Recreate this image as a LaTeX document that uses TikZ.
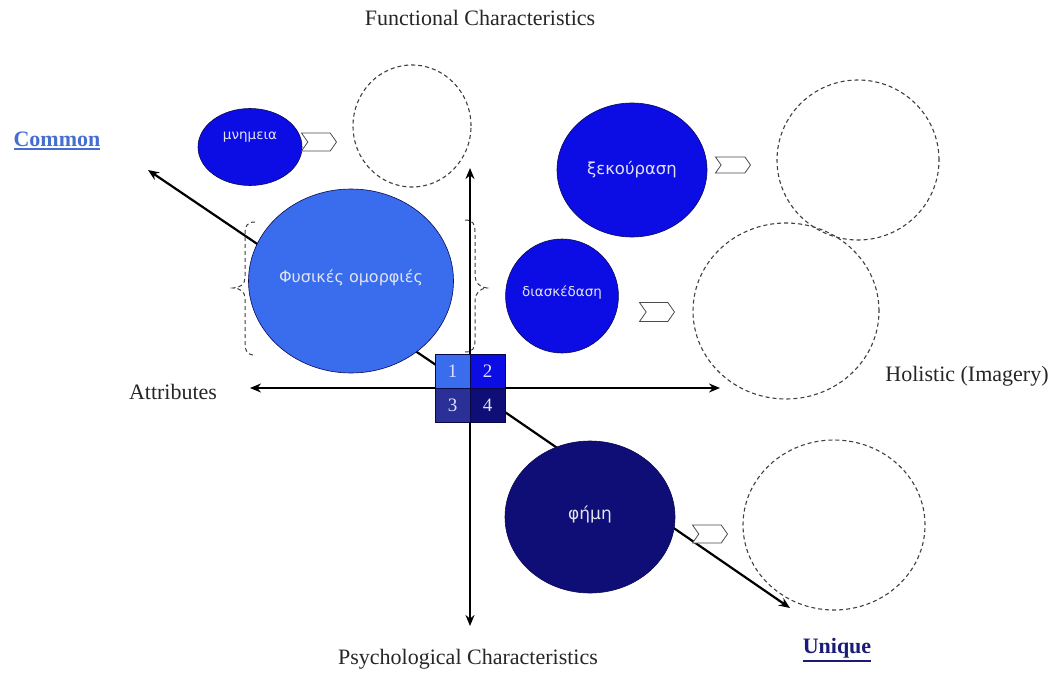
\documentclass[tikz,border=0pt]{standalone}
\usepackage{fontspec}
\setmainfont{Liberation Serif}
\newfontfamily\grk{DejaVu Sans}
\usetikzlibrary{arrows.meta,shapes.geometric,shapes.symbols}
\definecolor{cLight}{RGB}{58,108,238}
\definecolor{cBlue}{RGB}{12,12,228}
\definecolor{cDark}{RGB}{42,48,150}
\definecolor{cNavy}{RGB}{14,14,118}
\definecolor{cCommon}{RGB}{70,110,210}
\definecolor{cUnique}{RGB}{28,28,120}
\definecolor{cGrkTxt}{RGB}{225,228,240}
\newcommand{\ulbox}[1]{\leavevmode\vtop{\hbox{#1}\kern1.5pt\hrule height 2.4pt}}
\begin{document}
\begin{tikzpicture}[x=1pt,y=-1pt,
  axis/.style={line width=2.2pt,-{Stealth[length=11pt,width=9pt]}},
  bubble/.style={ellipse, draw=cNavy!70!black, line width=0.6pt, inner sep=0pt,
    text=cGrkTxt, font=\grk\fontsize{15}{17}\selectfont},
  ghost/.style={ellipse, draw=black!75, line width=1.1pt, dash pattern=on 4pt off 3pt, inner sep=0pt},
  cell/.style={draw=cNavy!60!black, line width=0.5pt, minimum width=35pt, minimum height=34pt,
    inner sep=0pt, text=white!88!blue, font=\fontsize{19}{20}\selectfont},
  chev/.style={signal, signal to=east, signal from=west, signal pointer angle=110,
    draw=black!70, fill=white, line width=0.8pt, minimum width=35pt, minimum height=18pt, inner sep=0pt},
  lbl/.style={font=\fontsize{22}{24}\selectfont, text=black!85},
  pole/.style={font=\bfseries\fontsize{22}{24}\selectfont},
  brace/.style={draw=black!75, line width=1pt, dash pattern=on 4pt off 3pt}
]
\useasboundingbox[fill=white] (0,0) rectangle (1056,679);

% axes
\coordinate (O) at (470,388);
\coordinate (vtop) at (470,168);
\coordinate (vbot) at (470,626);
\coordinate (hleft) at (250,388);
\coordinate (hright) at (720,388);
\coordinate (dcom) at (148,170);
\coordinate (duni) at (790,608);
\draw[axis] (O) -- (vtop);
\draw[axis] (O) -- (vbot);
\draw[axis] (O) -- (hleft);
\draw[axis] (O) -- (hright);
\draw[axis] (O) -- (dcom);
\draw[axis] (O) -- (duni);

% braces around the big bubble
\draw[brace] (255,222) .. controls (247,222) and (245,226) .. (245,234) -- (245,278)
  .. controls (245,284) and (240,288) .. (233,288)
  .. controls (240,288) and (245,292) .. (245,298) -- (245,343)
  .. controls (245,351) and (247,355) .. (255,355);
\draw[brace] (465,220) .. controls (473,220) and (475,224) .. (475,232) -- (475,276)
  .. controls (475,282) and (480,288) .. (487,288)
  .. controls (480,288) and (475,294) .. (475,300) -- (475,340)
  .. controls (475,348) and (473,352) .. (465,352);

% bubbles
\node[bubble, fill=cBlue, minimum width=104pt, minimum height=77pt, font=\grk\fontsize{13.5}{15}\selectfont]
  (mnem) at (250,147) {\raisebox{22pt}{μνημεια}};
\node[ghost, minimum width=118pt, minimum height=122pt] (g1) at (412,126) {};
\node[bubble, fill=cLight, minimum width=205pt, minimum height=184pt, font=\grk\fontsize{16}{18}\selectfont]
  (fys) at (351,281) {\raisebox{10pt}{Φυσικές ομορφιές}};
\node[bubble, fill=cBlue, minimum width=150pt, minimum height=134pt, font=\grk\fontsize{16.5}{18}\selectfont]
  (xek) at (632,170) {ξεκούραση};
\node[ghost, minimum width=162pt, minimum height=160pt] (g2) at (858,160) {};
\node[bubble, fill=cBlue, minimum width=112pt, minimum height=114pt, font=\grk\fontsize{13.5}{15}\selectfont]
  (dias) at (562,296) {\raisebox{10pt}{διασκέδαση}};
\node[ghost, minimum width=186pt, minimum height=176pt] (g3) at (786,311) {};
\node[bubble, fill=cNavy, minimum width=170pt, minimum height=152pt, font=\grk\fontsize{17}{19}\selectfont]
  (fimi) at (590,517) {\raisebox{8pt}{φήμη}};
\node[ghost, minimum width=182pt, minimum height=170pt] (g4) at (834,525) {};

% chevrons
\node[chev] (ch1) at (319,142) {};
\node[chev, minimum height=16pt] (ch2) at (733,165) {};
\node[chev, minimum height=19pt] (ch3) at (657,312) {};
\node[chev] (ch4) at (710,534) {};

% quadrant cells
\node[cell, fill=cLight] (q1) at (452.5,371.5) {1};
\node[cell, fill=cBlue] (q2) at (487.5,371.5) {2};
\node[cell, fill=cDark] (q3) at (452.5,405.5) {3};
\node[cell, fill=cNavy] (q4) at (487.5,405.5) {4};

% labels
\node[lbl] (func) at (480,18) {Functional Characteristics};
\node[lbl] (psy) at (468,659) {Psychological Characteristics};
\node[lbl] (attr) at (173,392) {Attributes};
\node[lbl] (hol) at (967,376) {Holistic (Imagery)};
\node[pole, text=cCommon] (com) at (57,141) {\ulbox{Common}};
\node[pole, text=cUnique] (uni) at (837,650) {\ulbox{Unique}};
\end{tikzpicture}
\end{document}
